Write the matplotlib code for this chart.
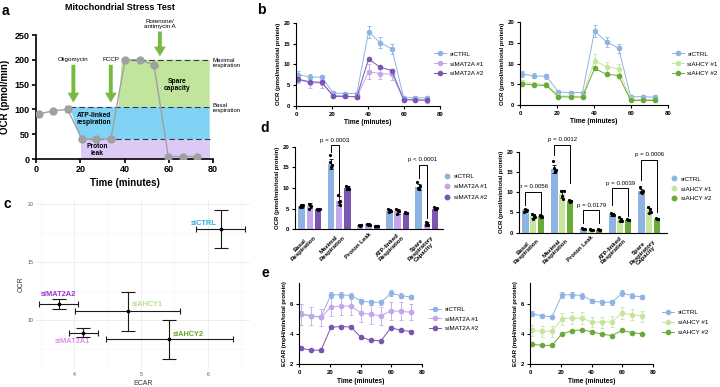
import matplotlib.pyplot as plt
from matplotlib.lines import Line2D

plt.rcParams['font.family'] = ['Liberation Sans', 'DejaVu Sans']

W, H = 720, 387

# ---------------- Datos ----------------

# Panel a (esquema del stress test)
a_time = [1.3, 7.8, 14.3, 20.8, 27.3, 33.8, 40.3, 46.8, 53.3, 59.8, 66.3, 72.8]
a_ocr = [91, 97, 100, 40, 40, 40, 200, 200, 190, 5, 5, 5]
a_err = [0, 0, 6, 0, 0, 0, 0, 0, 0, 0, 0, 0]
a_basal = 105
a_leak = 40
a_maximal = 200
a_end = 78.5
a_leak_x = [20.3, a_end, a_end, 20.3]
a_leak_y = [0, 0, a_leak, a_leak]
a_atp_x = [15.3, 20.0, a_end, a_end]
a_atp_y = [a_basal, a_leak, a_leak, a_basal]
a_spare_x = [37.2, 38.8, a_end, a_end]
a_spare_y = [a_basal, a_maximal, a_maximal, a_basal]
a_injections = ['Oligomycin', 'FCCP', 'Rotenone/\nantimycin A']
a_inj_x = [16.9, 33.8, 56.0]
a_inj_top = [190, 190, 257]
a_inj_tip = [114, 114, 207]

# Paneles b y e (curvas en el tiempo)
t = [1.3, 7.8, 14.3, 20.8, 27.3, 33.8, 40.3, 46.8, 53.3, 59.8, 66.3, 72.8]

ocr_ctrl = [7.5, 7.0, 6.9, 3.1, 3.0, 3.0, 17.8, 15.2, 13.7, 2.0, 2.0, 1.9]
ocr_ctrl_err = [0.8, 0.6, 0.6, 0.5, 0.4, 0.4, 1.5, 1.3, 1.1, 0.4, 0.4, 0.4]
ocr_mat1 = [6.3, 5.6, 5.5, 2.6, 2.4, 2.2, 8.2, 7.8, 7.6, 1.5, 1.4, 1.3]
ocr_mat1_err = [0.8, 1.2, 1.2, 0.6, 0.5, 0.5, 1.8, 1.4, 1.4, 0.4, 0.3, 0.4]
ocr_mat2 = [6.4, 5.8, 5.7, 2.3, 2.3, 2.2, 11.3, 9.3, 8.5, 1.5, 1.5, 1.4]
ocr_mat2_err = [0.4, 0.3, 0.3, 0.2, 0.2, 0.2, 0.3, 0.3, 0.3, 0.2, 0.2, 0.2]
ocr_ahcy1 = [5.5, 5.1, 5.0, 2.2, 2.1, 2.1, 10.7, 9.2, 8.7, 1.4, 1.3, 1.3]
ocr_ahcy1_err = [0.5, 0.4, 0.4, 0.3, 0.2, 0.2, 1.5, 1.2, 1.3, 0.2, 0.2, 0.2]
ocr_ahcy2 = [5.1, 4.8, 4.7, 2.0, 1.9, 1.9, 8.8, 7.4, 7.1, 1.1, 1.1, 1.1]
ocr_ahcy2_err = [0.3, 0.2, 0.2, 0.2, 0.2, 0.2, 0.4, 0.3, 0.3, 0.1, 0.1, 0.1]

ecar_ctrl = [5.35, 5.2, 5.15, 6.6, 6.6, 6.55, 6.2, 6.1, 6.1, 6.7, 6.55, 6.45]
ecar_ctrl_err = [0.15, 0.1, 0.1, 0.2, 0.2, 0.2, 0.15, 0.15, 0.15, 0.2, 0.15, 0.15]
ecar_mat1 = [5.3, 5.2, 5.1, 5.8, 5.85, 5.85, 5.4, 5.3, 5.2, 5.55, 5.5, 5.45]
ecar_mat1_err = [0.7, 0.6, 0.55, 0.6, 0.6, 0.6, 0.6, 0.6, 0.6, 0.6, 0.6, 0.55]
ecar_mat2 = [3.05, 2.95, 2.92, 4.45, 4.5, 4.47, 3.78, 3.6, 3.55, 4.42, 4.25, 4.17]
ecar_mat2_err = [0.08, 0.08, 0.08, 0.1, 0.1, 0.1, 0.08, 0.08, 0.08, 0.1, 0.08, 0.08]
ecar_ahcy1 = [4.25, 4.18, 4.18, 5.02, 5.05, 5.05, 4.8, 4.78, 4.83, 5.38, 5.28, 5.18]
ecar_ahcy1_err = [0.35, 0.35, 0.35, 0.4, 0.4, 0.4, 0.35, 0.35, 0.35, 0.4, 0.35, 0.35]
ecar_ahcy2 = [3.32, 3.26, 3.25, 4.02, 4.22, 4.28, 4.15, 4.0, 3.9, 4.24, 4.1, 4.02]
ecar_ahcy2_err = [0.08, 0.06, 0.06, 0.08, 0.08, 0.08, 0.08, 0.06, 0.06, 0.08, 0.06, 0.06]

# Panel c (OCR vs ECAR)
c_names = ['siCTRL', 'siMAT2A2', 'siAHCY1', 'siMAT2A1', 'siAHCY2']
c_ecar = [6.19, 3.77, 4.80, 4.14, 5.42]
c_ecar_err = [0.37, 0.29, 0.78, 0.21, 0.95]
c_ocr = [17.82, 11.38, 10.75, 8.91, 8.34]
c_ocr_err = [1.62, 0.43, 1.65, 0.40, 1.68]
c_label_x = [5.94, 3.77, 5.09, 3.98, 5.70]
c_label_y = [18.28, 12.24, 11.30, 8.13, 8.80]
c_colors = ['#29a9e1', '#9a2fcc', '#b5e08a', '#e58cf2', '#66a22a']

# Panel d (parametros)
d_cats = ['Basal\nRespiration', 'Maximal\nRespiration', 'Proton Leak',
          'ATP-linked\nRespiration', 'Spare\nRespiratory\nCapacity']
d_ctrl = [5.6, 15.8, 1.0, 4.5, 10.3]
d_ctrl_err = [0.3, 1.2, 0.1, 0.3, 0.7]
d_ctrl_reps = [[5.3, 5.9, 5.5, 5.8], [18.0, 16.2, 15.0, 15.6], [1.1, 0.9, 1.0, 1.0],
               [4.8, 4.3, 4.6, 4.4], [11.5, 10.0, 9.8, 10.4]]
d_mat1 = [5.7, 6.9, 1.2, 4.4, 1.3]
d_mat1_err = [0.6, 1.1, 0.2, 0.6, 0.4]
d_mat1_reps = [[6.2, 5.0, 6.0, 5.6], [8.3, 6.5, 6.0, 6.8], [1.4, 1.0, 1.3, 1.1],
               [5.0, 3.8, 4.5, 4.4], [1.8, 1.0, 1.5, 1.1]]
d_mat2 = [4.8, 10.0, 0.8, 4.0, 5.0]
d_mat2_err = [0.2, 0.4, 0.1, 0.2, 0.3]
d_mat2_reps = [[5.0, 4.6, 4.8, 4.9], [10.5, 9.7, 10.2, 9.8], [0.9, 0.7, 0.8, 0.8],
               [4.2, 3.9, 4.0, 3.9], [5.3, 4.8, 5.0, 5.1]]
d_ctrl_b = [5.5, 15.8, 1.0, 4.5, 10.3]
d_ctrl_b_err = [0.3, 1.0, 0.1, 0.3, 0.6]
d_ctrl_b_reps = [[5.2, 5.9, 5.4, 5.6], [17.8, 15.9, 15.0, 15.5], [1.1, 0.9, 1.0, 1.0],
                 [4.8, 4.3, 4.6, 4.4], [11.3, 10.0, 9.9, 10.2]]
d_ahcy1 = [4.1, 9.5, 0.7, 3.3, 5.5]
d_ahcy1_err = [0.5, 1.0, 0.1, 0.4, 0.7]
d_ahcy1_reps = [[4.6, 3.5, 4.4, 3.9], [10.3, 9.0, 8.2, 10.4], [0.8, 0.6, 0.7, 0.7],
                [3.8, 2.9, 3.5, 3.0], [6.3, 4.8, 5.8, 5.1]]
d_ahcy2 = [4.1, 7.9, 0.7, 3.2, 3.5]
d_ahcy2_err = [0.2, 0.2, 0.1, 0.1, 0.2]
d_ahcy2_reps = [[4.3, 3.9, 4.2, 4.0], [8.1, 7.7, 7.9, 7.8], [0.8, 0.6, 0.7, 0.7],
                [3.4, 3.1, 3.2, 3.1], [3.7, 3.3, 3.5, 3.4]]
# comparaciones: (categoria, barra izq, barra der, texto, altura, pierna izq, pierna der)
d_stats_mat = [(1, 0, 1, 'p = 0.0003', 20.4, 18.6, 8.4),
               (4, 0, 1, 'p < 0.0001', 15.6, 12.4, 2.7)]
d_stats_ahcy = [(0, 0, 2, 'p = 0.0056', 10.1, 6.8, 4.6),
                (1, 0, 2, 'p = 0.0012', 21.7, 19.2, 12.3),
                (2, 0, 2, 'p = 0.0179', 5.6, 2.4, 2.4),
                (3, 0, 2, 'p = 0.0039', 11.0, 6.8, 4.1),
                (4, 0, 2, 'p = 0.0006', 18.0, 13.0, 5.2)]

c_ctrl = '#8db4e2'
c_mat1 = '#c3a7e8'
c_mat2 = '#7b55b2'
c_ahcy1 = '#c8e59e'
c_ahcy2 = '#69aa38'


def axes_px(fig, left, top, right, bottom):
    return fig.add_axes([left / W, 1 - bottom / H, (right - left) / W, (bottom - top) / H])


def prism_style(ax, fs):
    for s in ['top', 'right']:
        ax.spines[s].set_visible(False)
    for s in ['left', 'bottom']:
        ax.spines[s].set_linewidth(0.8)
    ax.tick_params(direction='out', length=2.5, width=0.8, labelsize=fs, pad=1.5)
    for lab in ax.get_xticklabels() + ax.get_yticklabels():
        lab.set_fontweight('bold')


def legend_px(fig, handles, labels, marker_x, first_y, fs, pitch, hl=1.9):
    fs_px = fs * 100 / 72
    x0 = marker_x - hl * fs_px / 2
    fig.legend(handles, labels, loc='upper left',
               bbox_to_anchor=(x0 / W, 1 - (first_y - 0.6 * fs_px) / H),
               frameon=False, fontsize=fs, handlelength=hl, handletextpad=0.6,
               borderpad=0, borderaxespad=0, labelspacing=(pitch - 1.15 * fs_px) / fs_px)


fig = plt.figure(figsize=(7.2, 3.87), dpi=100)

# ---------------- Panel a ----------------
ax = axes_px(fig, 36, 35, 213, 159)
ax.fill(a_leak_x, a_leak_y, color='#dcc9f6', lw=0, zorder=0)
ax.fill(a_atp_x, a_atp_y, color='#80d3f5', lw=0, zorder=0)
ax.fill(a_spare_x, a_spare_y, color='#c2e59e', lw=0, zorder=0)
ax.plot([a_atp_x[0], a_end], [a_basal, a_basal], ls=(0, (5, 3)), color='#2f3d4c', lw=0.8, zorder=1)
ax.plot([a_atp_x[1], a_end], [a_leak, a_leak], ls=(0, (5, 3)), color='#2f3d4c', lw=0.8, zorder=1)
ax.plot([a_spare_x[1], a_end], [a_maximal, a_maximal], ls=(0, (5, 3)), color='#2f3d4c', lw=0.8, zorder=1)
ax.errorbar(a_time, a_ocr, yerr=a_err, color='#a0a0a0', marker='o', ms=5, lw=1.0,
            capsize=2, elinewidth=0.8, zorder=3)
for name, x, y0, y1 in zip(a_injections, a_inj_x, a_inj_top, a_inj_tip):
    ax.annotate('', xy=(x, y1), xytext=(x, y0), annotation_clip=False,
                arrowprops=dict(width=2.8, headwidth=8.5, headlength=7, color='#78b843', lw=0))
    ax.text(x, y0 + 5, name, ha='center', va='bottom', fontsize=4.5, clip_on=False, linespacing=1.0)
ax.text(a_end + 1.2, a_maximal - 6, 'Maximal\nrespiration', fontsize=4.3, va='center', ha='left', linespacing=1.0)
ax.text(a_end + 1.2, a_basal - 2, 'Basal\nrespiration', fontsize=4.3, va='center', ha='left', linespacing=1.0)
ax.text(63.6, 150, 'Spare\ncapacity', fontsize=4.8, fontweight='bold', ha='center', va='center', linespacing=1.0)
ax.text(26, 80, 'ATP-linked\nrespiration', fontsize=4.8, fontweight='bold', ha='center', va='center', linespacing=1.0)
ax.text(27.7, 19, 'Proton\nleak', fontsize=4.8, fontweight='bold', ha='center', va='center', linespacing=1.0)
ax.set_xlim(0, 80)
ax.set_ylim(0, 250)
ax.set_xticks([0, 20, 40, 60, 80])
ax.set_yticks([0, 50, 100, 150, 200, 250])
ax.set_xlabel('Time (minutes)', fontsize=7, fontweight='bold', labelpad=3)
ax.set_ylabel('OCR (pmol/min)', fontsize=7, fontweight='bold', labelpad=3)
prism_style(ax, 6.5)
ax.spines['left'].set_linewidth(1.2)
ax.spines['bottom'].set_linewidth(1.2)
ax.tick_params(width=1.2, length=3)
fig.text(120 / W, 1 - 8 / H, 'Mitochondrial Stress Test', fontsize=6.5, fontweight='bold',
         ha='center', va='center')

# ---------------- Panel b ----------------
b_sets = [
    (axes_px(fig, 296, 22.7, 440, 106),
     [('siCTRL', ocr_ctrl, ocr_ctrl_err, c_ctrl), ('siMAT2A #1', ocr_mat1, ocr_mat1_err, c_mat1),
      ('siMAT2A #2', ocr_mat2, ocr_mat2_err, c_mat2)], 440, 55),
    (axes_px(fig, 520, 22, 668, 105),
     [('siCTRL', ocr_ctrl, ocr_ctrl_err, c_ctrl), ('siAHCY #1', ocr_ahcy1, ocr_ahcy1_err, c_ahcy1),
      ('siAHCY #2', ocr_ahcy2, ocr_ahcy2_err, c_ahcy2)], 677.7, 55),
]
for ax, series, lx, ly in b_sets:
    handles, labels = [], []
    for name, vals, errs, col in series:
        ax.errorbar(t, vals, yerr=errs, color=col, marker='o', ms=3, lw=0.7,
                    capsize=1.5, elinewidth=0.6, capthick=0.6)
        handles.append(Line2D([], [], color=col, marker='o', ms=3, lw=0.7))
        labels.append(name)
    ax.set_xlim(0, 80)
    ax.set_ylim(0, 20)
    ax.set_xticks([0, 20, 40, 60, 80])
    ax.set_yticks([0, 5, 10, 15, 20])
    ax.set_xlabel('Time (minutes)', fontsize=4.8, fontweight='bold', labelpad=2)
    ax.set_ylabel('OCR (pmol/min/total protein)', fontsize=4.3, fontweight='bold', labelpad=2)
    prism_style(ax, 4.3)
    legend_px(fig, handles, labels, lx, ly, 4.5, 11.7)

# ---------------- Panel c ----------------
ax = axes_px(fig, 36, 199, 250, 369)
ax.errorbar(c_ecar, c_ocr, yerr=c_ocr_err, fmt='none', ecolor='#1a1a1a', elinewidth=0.8,
            capsize=5.3, capthick=0.8)
ax.errorbar(c_ecar, c_ocr, xerr=c_ecar_err, fmt='none', ecolor='#1a1a1a', elinewidth=0.8,
            capsize=2.0, capthick=0.8)
ax.plot(c_ecar, c_ocr, 's', color='black', ms=2)
for name, lx, ly, col in zip(c_names, c_label_x, c_label_y, c_colors):
    ax.text(lx, ly, name, color=col, fontsize=5.3, fontweight='bold', ha='center', va='center')
ax.set_xlim(3.43, 6.63)
ax.set_ylim(5.8, 20.4)
ax.set_xticks([4, 5, 6])
ax.set_yticks([10, 15, 20])
ax.set_xticks([3.5, 4.5, 5.5, 6.5], minor=True)
ax.set_yticks([7.5, 12.5, 17.5], minor=True)
ax.grid(which='major', color='#ebebeb', lw=0.6)
ax.grid(which='minor', color='#f3f3f3', lw=0.4)
ax.set_axisbelow(True)
for s in ax.spines.values():
    s.set_visible(False)
ax.tick_params(which='both', length=0, labelsize=3.8, labelcolor='#555555', pad=2)
ax.set_xlabel('ECAR', fontsize=5, labelpad=2, color='#333333')
ax.set_ylabel('OCR', fontsize=5, labelpad=2, color='#333333')

# ---------------- Panel d ----------------
d_sets = [
    (axes_px(fig, 295, 146.7, 443, 229.3), (-0.51, 4.55), 0.285,
     [('siCTRL', d_ctrl, d_ctrl_err, d_ctrl_reps, c_ctrl),
      ('siMAT2A #1', d_mat1, d_mat1_err, d_mat1_reps, c_mat1),
      ('siMAT2A #2', d_mat2, d_mat2_err, d_mat2_reps, c_mat2)], d_stats_mat, 446.7, 177.3, 12.2),
    (axes_px(fig, 519, 151.7, 667, 232.7), (-0.49, 4.61), 0.27,
     [('siCTRL', d_ctrl_b, d_ctrl_b_err, d_ctrl_b_reps, c_ctrl),
      ('siAHCY #1', d_ahcy1, d_ahcy1_err, d_ahcy1_reps, c_ahcy1),
      ('siAHCY #2', d_ahcy2, d_ahcy2_err, d_ahcy2_reps, c_ahcy2)], d_stats_ahcy, 674.3, 180, 11.7),
]
for ax, xlim, off, series, stats, lx, ly, pitch in d_sets:
    handles, labels = [], []
    for j, (name, vals, errs, reps, col) in enumerate(series):
        xs = [i + (j - 1) * off for i in range(len(vals))]
        ax.bar(xs, vals, width=0.22, color=col, yerr=errs, lw=0,
               error_kw=dict(elinewidth=0.6, capsize=1.2, capthick=0.6, ecolor='black'))
        for x, rr in zip(xs, reps):
            jit = [-0.045, -0.015, 0.015, 0.045]
            ax.plot([x + d for d in jit], rr, 'o', color='black', ms=1.3, zorder=4)
        handles.append(Line2D([], [], color=col, marker='o', ms=3.2, lw=0))
        labels.append(name)
    for cat, b0, b1, txt, top, leg0, leg1 in stats:
        x0 = cat + (b0 - 1) * off
        x1 = cat + (b1 - 1) * off
        ax.plot([x0, x0, x1, x1], [leg0, top, top, leg1], color='black', lw=0.7, clip_on=False)
        ax.text((x0 + x1) / 2, top + 0.6, txt, ha='center', va='bottom', fontsize=4.4, clip_on=False)
    ax.set_xlim(*xlim)
    ax.set_ylim(0, 20)
    ax.set_yticks([0, 5, 10, 15, 20])
    ax.set_xticks(range(len(d_cats)))
    ax.set_xticklabels(d_cats, rotation=45, ha='right', rotation_mode='anchor',
                       multialignment='center', linespacing=1.0)
    ax.set_ylabel('OCR (pmol/min/total protein)', fontsize=4.3, fontweight='bold', labelpad=2)
    prism_style(ax, 4.3)
    ax.tick_params(axis='x', length=0)
    legend_px(fig, handles, labels, lx, ly, 4.5, pitch, hl=1.0)

# ---------------- Panel e ----------------
e_sets = [
    (axes_px(fig, 299, 282.7, 422, 364.3),
     [('siCTRL', ecar_ctrl, ecar_ctrl_err, c_ctrl), ('siMAT2A #1', ecar_mat1, ecar_mat1_err, c_mat1),
      ('siMAT2A #2', ecar_mat2, ecar_mat2_err, c_mat2)], 435, 310.7, 11),
    (axes_px(fig, 530, 282.7, 653, 364.3),
     [('siCTRL', ecar_ctrl, ecar_ctrl_err, c_ctrl), ('siAHCY #1', ecar_ahcy1, ecar_ahcy1_err, c_ahcy1),
      ('siAHCY #2', ecar_ahcy2, ecar_ahcy2_err, c_ahcy2)], 668.3, 313.3, 11.7),
]
for ax, series, lx, ly, pitch in e_sets:
    handles, labels = [], []
    for name, vals, errs, col in series:
        ax.errorbar(t, vals, yerr=errs, color=col, marker='o', ms=3, lw=0.7,
                    capsize=1.5, elinewidth=0.6, capthick=0.6)
        handles.append(Line2D([], [], color=col, marker='o', ms=3, lw=0.7))
        labels.append(name)
    ax.set_xlim(0, 80)
    ax.set_ylim(2, 7.4)
    ax.set_xticks([0, 20, 40, 60, 80])
    ax.set_yticks([2, 4, 6])
    ax.set_xlabel('Time (minutes)', fontsize=4.8, fontweight='bold', labelpad=2)
    ax.set_ylabel('ECAR (mpH/min/total protein)', fontsize=4.3, fontweight='bold', labelpad=2)
    prism_style(ax, 4.3)
    legend_px(fig, handles, labels, lx, ly, 4.5, pitch)

# Letras de los paneles
for letter, x, y in [('a', 5, 11), ('b', 261, 10), ('c', 7, 204), ('d', 265, 128), ('e', 265, 273)]:
    fig.text(x / W, 1 - y / H, letter, fontsize=10, fontweight='bold', ha='center', va='center')

fig.savefig('out.png', dpi=100)
